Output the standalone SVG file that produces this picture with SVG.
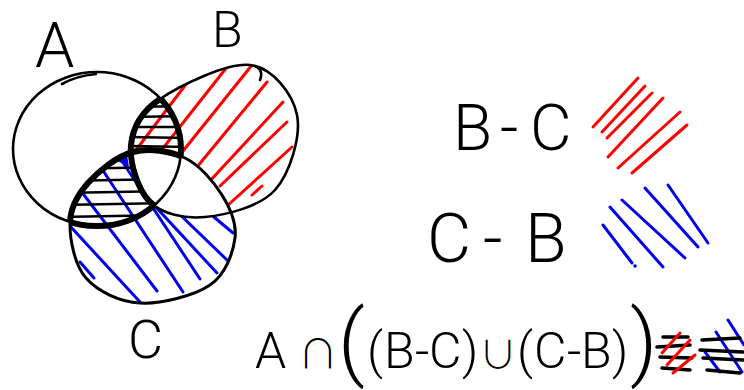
<svg xmlns="http://www.w3.org/2000/svg" xmlns:xlink="http://www.w3.org/1999/xlink" width="744" height="390" viewBox="0 0 744 390">
<style>
.thin{fill:none;stroke:#000;stroke-width:2.6;stroke-linecap:round;stroke-linejoin:round}
.thick{fill:none;stroke:#000;stroke-width:6}
.red{fill:none;stroke:#f00;stroke-width:3;stroke-linecap:round}
.blue{fill:none;stroke:#0000ee;stroke-width:3;stroke-linecap:round}
.hk{fill:none;stroke:#000;stroke-width:2.4;stroke-linecap:round}
.hk2{fill:none;stroke:#000;stroke-width:3.5;stroke-linecap:round}
.lbl{font-family:Roboto,"DejaVu Sans",sans-serif;font-weight:300;fill:#000}
.op{font-family:"Noto Sans CJK JP","Noto Sans CJK SC","DejaVu Sans",sans-serif;font-weight:300}
</style>
<defs>
<ellipse id="pA" cx="97" cy="149" rx="84" ry="77"/>
<path id="pB" d="M160,99 C179.8,85.7 227.2,62.3 250,65 C272.8,67.7 292.8,94.2 297,115 C301.2,135.8 290.3,173 275,190 C259.7,207 225.8,215 205,217 C184.2,219 162.3,214 150,202 C137.7,190 129.3,162.2 131,145 C132.7,127.8 140.2,112.3 160,99 Z"/>
<path id="pC" d="M70,223 C70.3,207.2 77.5,194.8 88,183 C98.5,171.2 116.8,156.2 133,152 C149.2,147.8 170.2,150.8 185,158 C199.8,165.2 213.7,181.7 222,195 C230.3,208.3 237,223 235,238 C233,253 225.8,274.2 210,285 C194.2,295.8 160.7,304.2 140,303 C119.3,301.8 97.7,291.3 86,278 C74.3,264.7 69.7,238.8 70,223 Z"/>
<clipPath id="cA"><use xlink:href="#pA"/></clipPath>
<clipPath id="cB"><use xlink:href="#pB"/></clipPath>
<clipPath id="cC"><use xlink:href="#pC"/></clipPath>
<mask id="mBC" maskUnits="userSpaceOnUse" x="0" y="0" width="744" height="390"><use xlink:href="#pB" fill="#fff"/><use xlink:href="#pC" fill="#000"/></mask>
<mask id="mCB" maskUnits="userSpaceOnUse" x="0" y="0" width="744" height="390"><use xlink:href="#pC" fill="#fff"/><use xlink:href="#pB" fill="#000"/></mask>
<mask id="mAC" maskUnits="userSpaceOnUse" x="0" y="0" width="744" height="390"><use xlink:href="#pA" fill="#fff"/><use xlink:href="#pC" fill="#000"/></mask>
<mask id="mAB" maskUnits="userSpaceOnUse" x="0" y="0" width="744" height="390"><use xlink:href="#pA" fill="#fff"/><use xlink:href="#pB" fill="#000"/></mask>
<mask id="mABC" maskUnits="userSpaceOnUse" x="0" y="0" width="744" height="390"><use xlink:href="#pB" fill="#fff" clip-path="url(#cA)"/><use xlink:href="#pC" fill="#000"/></mask>
<mask id="mACB" maskUnits="userSpaceOnUse" x="0" y="0" width="744" height="390"><use xlink:href="#pC" fill="#fff" clip-path="url(#cA)"/><use xlink:href="#pB" fill="#000"/></mask>
</defs>

<!-- hatching: B - C (red) -->
<g id="hatch-BC" mask="url(#mBC)">
<path class="red" d="M136,150 L193,75"/>
<path class="red" d="M160,152 L227,67"/>
<path class="red" d="M179,156 L252,65"/>
<path class="red" d="M197,167 L267,82"/>
<path class="red" d="M209,182 L283,102"/>
<path class="red" d="M220,186 L287,122"/>
<path class="red" d="M227,206 L292,147"/>
<path class="red" d="M252,195 L262,186"/>
</g>
<!-- hatching: C - B (blue) -->
<g id="hatch-CB" mask="url(#mCB)">
<path class="blue" d="M70,226 L140,302"/>
<path class="blue" d="M80,262 L94,278"/>
<path class="blue" d="M84,195 L157,291"/>
<path class="blue" d="M100,166 L183,292"/>
<path class="blue" d="M118,155 L200,279"/>
<path class="blue" d="M140,190 L217,273"/>
<path class="blue" d="M170,205 L227,260"/>
<path class="blue" d="M208,212 L233,233"/>
<path d="M118,161 L127,154 L129,168 Z" fill="#0000ee"/>
</g>
<!-- black horizontal hatch in A∩(B-C) and A∩(C-B) -->
<g id="hatch-A" mask="url(#mABC)">
<path class="hk" d="M128,107 L190,106"/>
<path class="hk" d="M128,117 L190,116"/>
<path class="hk" d="M128,127 L190,127"/>
<path class="hk" d="M128,137 L190,138"/>
<path class="hk" d="M128,146 L190,147"/>
</g>
<g id="hatch-A2" mask="url(#mACB)">
<path class="hk" d="M60,169 L170,167"/>
<path class="hk" d="M60,181 L170,179"/>
<path class="hk" d="M60,193 L170,191"/>
<path class="hk" d="M60,205 L170,203"/>
<path class="hk" d="M60,217 L170,215"/>
</g>

<!-- sets -->
<g id="setA"><use xlink:href="#pA" class="thin"/><path class="thin" d="M62,84 Q76,76 96,74"/></g>
<g id="setB"><use xlink:href="#pB" class="thin"/><path class="thin" d="M255,66 Q264,70 260,80"/></g>
<g id="setC"><use xlink:href="#pC" class="thin" style="stroke-width:3"/></g>

<!-- thick outlines of A∩((B-C)∪(C-B)) -->
<g id="result-outline">
<use xlink:href="#pA" class="thick" mask="url(#mBC)"/>
<use xlink:href="#pB" class="thick" mask="url(#mAC)"/>
<g clip-path="url(#cA)"><use xlink:href="#pC" class="thick" clip-path="url(#cB)"/></g>
<use xlink:href="#pC" class="thick" mask="url(#mAB)"/>
<use xlink:href="#pA" class="thick" mask="url(#mCB)"/>
<g clip-path="url(#cA)"><use xlink:href="#pB" class="thick" clip-path="url(#cC)"/></g>
</g>

<!-- set labels -->
<text class="lbl" x="35" y="67" font-size="63">A</text>
<text class="lbl" x="212" y="47" font-size="50">B</text>
<text class="lbl" x="128" y="358" font-size="54">C</text>

<!-- legend -->
<g id="legend-BC">
<text class="lbl" x="453 500 530" y="150" font-size="64">B-C</text>
<path class="red" d="M593,127 L638,78"/>
<path class="red" d="M602,132 L645,86"/>
<path class="red" d="M607,138 L652,93"/>
<path class="red" d="M608,157 L663,98"/>
<path class="red" d="M618,168 L680,112"/>
<path class="red" d="M632,173 L687,125"/>
</g>
<g id="legend-CB">
<text class="lbl" x="427 483 525" y="262" font-size="68">C-B</text>
<path class="blue" d="M603,225 L632,263"/>
<path class="blue" d="M610,207 L663,267"/>
<path class="blue" d="M622,200 L685,258"/>
<path class="blue" d="M645,188 L698,247"/>
<path class="blue" d="M668,185 L708,243"/>
<circle cx="635" cy="266" r="1.8" fill="#0000ee"/>
</g>

<!-- formula -->
<g id="formula">
<text class="lbl" y="368" font-size="50"><tspan x="255">A</tspan><tspan x="298" class="op" font-size="40">∩</tspan><tspan x="338" y="370" font-size="84">(</tspan><tspan x="367" y="368">(</tspan><tspan x="384">B</tspan><tspan x="415">-</tspan><tspan x="429">C</tspan><tspan x="462">)</tspan><tspan x="479" class="op" font-size="38">∪</tspan><tspan x="517">(</tspan><tspan x="534">C</tspan><tspan x="567">-</tspan><tspan x="581">B</tspan><tspan x="612">)</tspan><tspan x="630" y="370" font-size="84">)</tspan></text>
<path class="hk2" d="M663,337 L688,337"/>
<path class="hk2" d="M657,347 L690,345"/>
<path class="hk2" d="M660,357 L692,358"/>
<path class="hk2" d="M662,368 L690,370"/>
<path class="red" d="M662,353 L680,333"/>
<path class="red" d="M667,365 L690,340"/>
<path class="red" d="M673,373 L695,355"/>
<path class="blue" d="M705,352 L720,372"/>
<path class="blue" d="M716,332 L742,372"/>
<path class="blue" d="M728,320 L744,345"/>
<path class="hk2" d="M702,340 L740,338"/>
<path class="hk2" d="M700,350 L743,352"/>
<path class="hk2" d="M703,358 L743,360"/>
<path class="hk2" d="M707,370 L740,373"/>
</g>
</svg>
